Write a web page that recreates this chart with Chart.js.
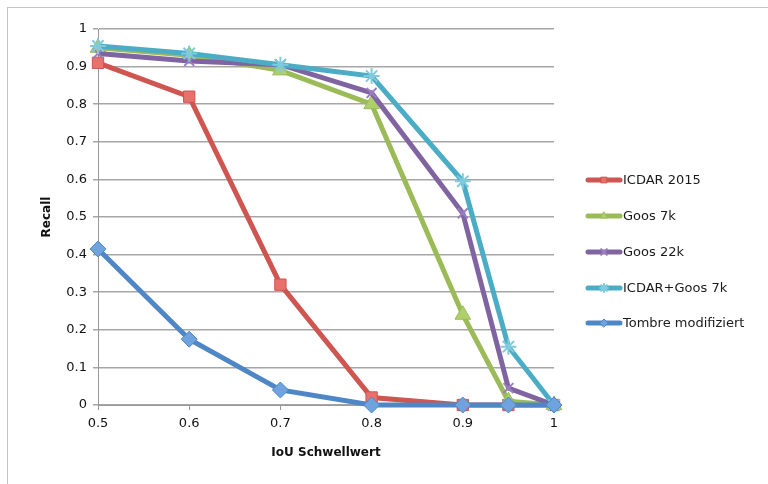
<!DOCTYPE html>
<html>
<head>
<meta charset="utf-8">
<script src="https://cdn.jsdelivr.net/npm/chart.js@4.4.0/dist/chart.umd.min.js"></script>
<style>
  html, body { margin: 0; padding: 0; background: #fff; overflow: hidden; }
  #wrap { position: relative; width: 768px; height: 484px; }
  #frame { position: absolute; left: 7px; top: 7px; width: 800px; height: 500px; border: 1px solid #c4c4c4; }
  canvas { position: absolute; left: 0; top: 0; }
</style>
</head>
<body>
<div id="wrap">
  <div id="frame"></div>
  <canvas id="recallChart" width="768" height="484"></canvas>
</div>
<script>
// IoU thresholds
const thresholds = [0.5, 0.6, 0.7, 0.8, 0.9, 0.95, 1];

// recall values per model
const icdar2015 = [0.91, 0.82, 0.32, 0.02, 0, 0, 0];
const goos7k = [0.95, 0.93, 0.89, 0.80, 0.24, 0.01, 0];
const goos22k = [0.935, 0.915, 0.905, 0.83, 0.51, 0.045, 0];
const icdarGoos7k = [0.955, 0.935, 0.905, 0.875, 0.595, 0.155, 0];
const tombre = [0.415, 0.175, 0.04, 0, 0, 0, 0];

const seriesNames = ['ICDAR 2015', 'Goos 7k', 'Goos 22k', 'ICDAR+Goos 7k', 'Tombre modifiziert'];

const font = '"DejaVu Sans", sans-serif';

const toPoints = (vals) => vals.map((v, i) => ({ x: thresholds[i], y: v }));

// 0.5 .. 1 without trailing zeros, like the original
const plainNum = (v) => String(+v.toFixed(2));

const makeSet = (label, vals, color, fill, style, radius, order) => {
  const thin = style === 'crossRot' || style === 'star';
  return {
    label: label,
    data: toPoints(vals),
    borderColor: color,
    borderWidth: 5,
    pointStyle: style,
    pointRadius: radius,
    pointHoverRadius: radius,
    pointBackgroundColor: fill,
    pointBorderColor: thin ? fill : color,
    pointBorderWidth: thin ? 2 : 1,
    tension: 0,
    clip: false,
    order: order
  };
};

// legend drawn by hand so the line sample carries the marker
const sideLegend = {
  id: 'sideLegend',
  afterDraw(chart) {
    const ctx = chart.ctx;
    const ys = [180, 216, 252, 288, 323];
    chart.data.datasets.forEach((ds, i) => {
      const y = ys[i];
      ctx.save();
      ctx.strokeStyle = ds.borderColor;
      ctx.lineWidth = 5;
      ctx.lineCap = 'round';
      ctx.beginPath();
      ctx.moveTo(588, y);
      ctx.lineTo(620, y);
      ctx.stroke();
      ctx.fillStyle = ds.pointBackgroundColor;
      ctx.strokeStyle = ds.pointBorderColor;
      ctx.lineWidth = ds.pointBorderWidth;
      Chart.helpers.drawPoint(ctx, { pointStyle: ds.pointStyle, radius: 4, borderWidth: ds.pointBorderWidth }, 604, y);
      ctx.fillStyle = '#1a1a1a';
      ctx.font = '13px ' + font;
      ctx.textBaseline = 'middle';
      ctx.fillText(ds.label, 623, y + 1);
      ctx.restore();
    });
  }
};

new Chart(document.getElementById('recallChart'), {
  type: 'line',
  data: {
    datasets: [
      makeSet(seriesNames[0], icdar2015, '#CF5550', '#E8716B', 'rect', 8, 5),
      makeSet(seriesNames[1], goos7k, '#9BBB59', '#AECF6A', 'triangle', 9, 4),
      makeSet(seriesNames[2], goos22k, '#8064A2', '#9A7FBF', 'crossRot', 7, 3),
      makeSet(seriesNames[3], icdarGoos7k, '#4BACC6', '#7FCBDD', 'star', 8, 2),
      makeSet(seriesNames[4], tombre, '#4F87C6', '#6FA3DE', 'rectRot', 8, 1)
    ]
  },
  options: {
    responsive: false,
    animation: false,
    layout: { padding: { left: 36, right: 214, top: 29, bottom: 20 } },
    plugins: {
      legend: { display: false },
      tooltip: { enabled: false }
    },
    scales: {
      x: {
        type: 'linear',
        min: 0.5,
        max: 1,
        ticks: {
          stepSize: 0.1,
          color: '#111',
          font: { family: font, size: 13 },
          padding: 6,
          callback: plainNum
        },
        grid: { drawOnChartArea: false, drawTicks: true, tickLength: 5, color: '#999' },
        border: { color: '#999' },
        title: {
          display: true,
          text: 'IoU Schwellwert',
          color: '#111',
          font: { family: font, size: 12, weight: 'bold' },
          padding: { top: 10 }
        },
        afterFit: (scale) => { scale.height = 59; }
      },
      y: {
        min: 0,
        max: 1,
        ticks: {
          stepSize: 0.1,
          color: '#111',
          font: { family: font, size: 13 },
          padding: 6,
          callback: plainNum
        },
        grid: { color: '#a6a6a6', tickLength: 5, lineWidth: 1.5 },
        border: { color: '#999' },
        title: {
          display: true,
          text: 'Recall',
          color: '#111',
          font: { family: font, size: 12, weight: 'bold' }
        },
        afterFit: (scale) => { scale.width = 62; }
      }
    }
  },
  plugins: [sideLegend]
});
</script>
</body>
</html>
